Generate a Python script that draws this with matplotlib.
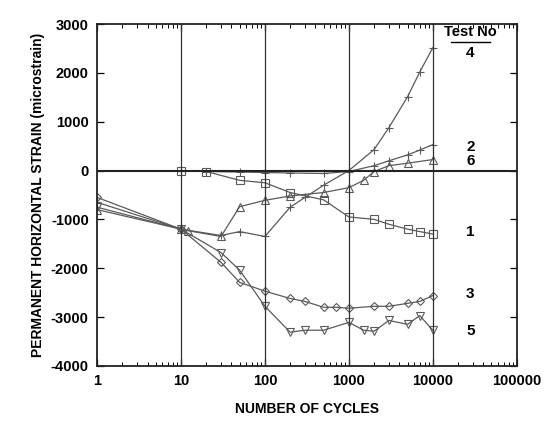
import matplotlib
matplotlib.use("Agg")
import matplotlib.pyplot as plt
from matplotlib.ticker import FixedLocator, LogLocator, NullFormatter

plt.rcParams['font.family'] = ['Liberation Sans', 'DejaVu Sans']
plt.rcParams['axes.unicode_minus'] = False

# Test 1 (squares)
n1 = [10, 20, 50, 100, 200, 500, 1000, 2000, 3000, 5000, 7000, 10000]
s1 = [0, -20, -200, -250, -450, -600, -950, -1000, -1100, -1200, -1250, -1300]
# Test 2
n2 = [10, 20, 50, 100, 200, 500, 1000, 2000, 3000, 5000, 7000, 10000]
s2 = [0, -20, -30, -40, -50, -60, -20, 100, 200, 320, 420, 530]
# Test 3 (diamonds)
n3 = [1, 10, 30, 50, 100, 200, 300, 500, 700, 1000, 2000, 3000, 5000, 7000, 10000]
s3 = [-550, -1200, -1880, -2290, -2470, -2620, -2680, -2800, -2800, -2820, -2780, -2780, -2720, -2680, -2560]
# Test 4 (crosses)
n4 = [1, 10, 30, 50, 100, 200, 300, 500, 1000, 2000, 3000, 5000, 7000, 10000]
s4 = [-650, -1200, -1330, -1250, -1350, -750, -550, -300, 0, 430, 880, 1510, 2020, 2515]
# Test 5 (inverted triangles)
n5 = [1, 10, 30, 50, 100, 200, 300, 500, 1000, 1500, 2000, 3000, 5000, 7000, 10000]
s5 = [-750, -1200, -1680, -2040, -2780, -3310, -3270, -3270, -3110, -3270, -3290, -3070, -3150, -2970, -3270]
# Test 6 (triangles)
n6 = [1, 10, 12, 30, 50, 100, 200, 500, 1000, 1500, 2000, 3000, 5000, 10000]
s6 = [-800, -1200, -1230, -1350, -740, -610, -520, -450, -350, -200, -20, 100, 150, 225]

label_tests = ['4', '2', '6', '1', '3', '5']
label_vals = [2400, 480, 200, -1260, -2530, -3280]

fig = plt.figure(figsize=(5.48, 4.22), dpi=100)
ax = fig.add_axes([0.177, 0.133, 0.766, 0.810])

lc = '#5a5a5a'
kw = dict(color=lc, lw=0.9, mfc='none', mec=lc, mew=0.8)
ax.plot(n1, s1, marker='s', ms=5.5, **kw)
ax.plot(n2, s2, marker='+', ms=6, **kw)
ax.plot(n3, s3, marker='D', ms=4, **kw)
ax.plot(n4, s4, marker='+', ms=6, **kw)
ax.plot(n5, s5, marker='v', ms=5.5, **kw)
ax.plot(n6, s6, marker='^', ms=5.5, **kw)

ax.set_xscale('log')
ax.set_xlim(1, 100000)
ax.set_ylim(-4000, 3000)

for x in [10, 100, 1000, 10000]:
    ax.axvline(x, color='#333333', lw=0.9)
ax.axhline(0, color='#222222', lw=1.5)

ax.set_yticks(range(-4000, 3001, 1000))
ax.xaxis.set_major_locator(FixedLocator([1, 10, 100, 1000, 10000, 100000]))
ax.set_xticklabels(['1', '10', '100', '1000', '10000', '100000'])
ax.xaxis.set_minor_locator(LogLocator(base=10, subs=range(2, 10), numticks=20))
ax.xaxis.set_minor_formatter(NullFormatter())
ax.tick_params(axis='both', which='major', direction='in', length=5, width=0.9,
               top=True, right=True, labelsize=10.5, pad=6)
ax.tick_params(axis='x', which='minor', direction='in', length=3, width=0.7, top=True)
for lab in ax.get_xticklabels() + ax.get_yticklabels():
    lab.set_fontweight('bold')
for sp in ax.spines.values():
    sp.set_linewidth(1.3)
    sp.set_color('#222222')

ax.set_xlabel('NUMBER OF CYCLES', fontsize=10, fontweight='bold', labelpad=10)
ax.set_ylabel('PERMANENT HORIZONTAL STRAIN (microstrain)', fontsize=10,
              fontweight='bold', labelpad=4)

ax.text(28000, 2830, 'Test No', fontsize=10.5, fontweight='bold', ha='center', va='center')
ax.plot([16500, 48000], [2640, 2640], color='black', lw=1)
xs = 28000
for t, v in zip(label_tests, label_vals):
    ax.text(xs, v, t, fontsize=11, fontweight='bold', ha='center', va='center')

fig.savefig('out.png', dpi=100)
